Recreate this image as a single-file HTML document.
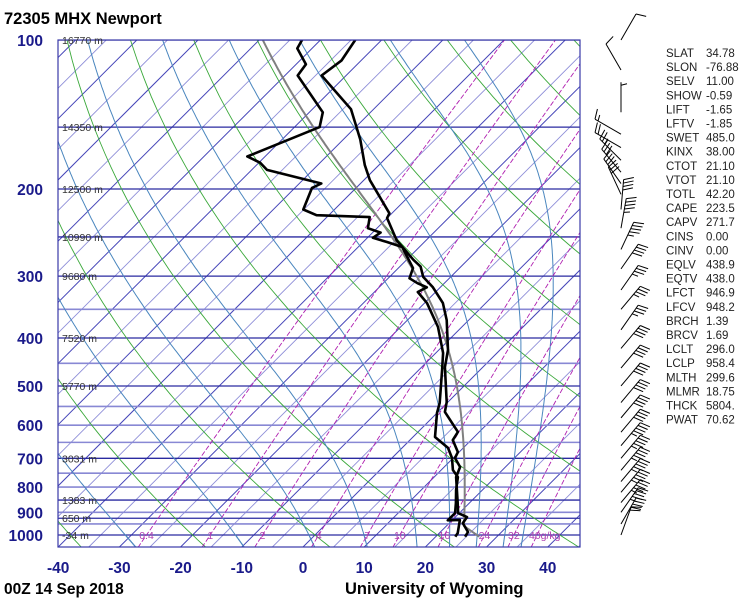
<!DOCTYPE html>
<html><head><meta charset="utf-8">
<style>
html,body{margin:0;padding:0;background:#fff;}
svg{display:block;font-family:"Liberation Sans",Arial,sans-serif;}
</style></head>
<body>
<svg id="chart" width="750" height="600" viewBox="0 0 750 600" xmlns="http://www.w3.org/2000/svg">
<defs><clipPath id="plotclip"><rect x="58" y="40" width="522" height="507"/></clipPath></defs>
<text x="4" y="24" font-size="16.5" font-weight="bold" fill="#000">72305 MHX Newport</text>
<text x="4" y="594" font-size="15.5" font-weight="bold" fill="#000">00Z 14 Sep 2018</text>
<text x="345" y="594" font-size="16.5" font-weight="bold" fill="#000">University of Wyoming</text>
<g id="grid" clip-path="url(#plotclip)"></g>
<g id="series" clip-path="url(#plotclip)"></g>
<rect x="58" y="40" width="522" height="507" fill="none" stroke="#3a3aa8" stroke-width="1.2"/>
<g id="labels"></g>
<g id="winds"></g>
<g id="stats"></g>
</svg>
<script>
const tempP=[100,110,118,138,159,179,192,224,229,254,278,287,301,316,340,368,423,458,539,564,619,643,680,699,729,764,862,903,920,946,986,1008];
const tempT=[-74.3,-73.2,-74.0,-63.7,-57.2,-52.3,-49.0,-40.4,-40.0,-34.8,-28.9,-26.6,-24.5,-21.2,-17.0,-13.6,-8.5,-6.2,-0.2,1.1,6.5,7.0,9.8,10.3,12.6,13.6,18.1,19.8,21.9,22.2,24.5,24.8];
const dewP=[100,104,112,118,140,150,172,177,183,195,199,220,226,228,240,245,251,256,262,289,303,310,316,323,340,380,429,464,541,567,634,667,699,739,764,811,862,903,934,932,991,1008];
const dewT=[-83,-82.4,-78.4,-77.9,-67.8,-65.9,-72.9,-69.8,-67.5,-56.4,-57.2,-55.1,-52.0,-43.0,-41.5,-38.7,-39.1,-36.1,-32.8,-27.6,-26.5,-24.4,-22.2,-22.9,-19.6,-13.9,-8.8,-6.2,-1.2,0.0,3.6,7.5,9.8,11.9,13.9,15.7,17.8,19.3,19.3,21.2,23.0,23.2];
const isobarP=[100,150,200,250,300,350,400,450,500,550,600,650,700,750,800,850,900,925,950,1000];
const isobarDark=[100,150,200,250,300,400,500,700,850,925,1000];
const heightP=[100,150,200,250,300,400,500,700,850,925,1000];
const heightLbl=["16770 m","14350 m","12500 m","10990 m","9680 m","7520 m","5770 m","3031 m","1383 m","650 m","-34 m"];
const pLabels=[100,200,300,400,500,600,700,800,900,1000];
const tTicks=[-40,-30,-20,-10,0,10,20,30,40];
const dryT1000=[-120,-100,-80,-60,-40,-20,0,20,40,60,80,100,120,140,160,180];
const moistT1000=[-31,-13,-1,8,16.5,22,26.5,31,34];
const mixRatios=[0.4,1,2,4,7,10,16,24,32,40];
const mixLabels=["0.4","1","2","4","7","10","16","24","32","40g/kg"];
const windP=[100,115,140,155,165,175,185,195,205,220,240,265,290,320,350,385,420,460,500,540,580,620,660,700,740,780,820,860,900,950,1000];
const windDir=[30,330,0,300,300,315,320,325,335,5,10,25,35,35,40,35,40,40,40,40,40,40,40,40,40,40,40,40,35,30,20];
const windSpd=[10,10,5,15,20,25,30,30,30,40,45,45,40,35,35,35,40,40,40,40,40,40,45,45,45,45,45,45,45,40,20];
const statNames=["SLAT","SLON","SELV","SHOW","LIFT","LFTV","SWET","KINX","CTOT","VTOT","TOTL","CAPE","CAPV","CINS","CINV","EQLV","EQTV","LFCT","LFCV","BRCH","BRCV","LCLT","LCLP","MLTH","MLMR","THCK","PWAT"];
const statValues=["34.78","-76.88","11.00","-0.59","-1.65","-1.85","485.0","38.00","21.10","21.10","42.20","223.5","271.7","0.00","0.00","438.9","438.0","946.9","948.2","1.39","1.69","296.0","958.4","299.6","18.75","5804.","70.62"];
const lclP=958.4, lclT=22.85, sfcP=1008, parcelTheta=299.6;

const NS="http://www.w3.org/2000/svg";
function yP(p){return 535+215*Math.log(p/1000);}
function xT(t,p){return 303+6.12*t+(547-yP(p));}
function mk(tag,attrs,parent){const e=document.createElementNS(NS,tag);for(const k in attrs)e.setAttribute(k,attrs[k]);parent.appendChild(e);return e;}
const grid=document.getElementById('grid'),series=document.getElementById('series'),labels=document.getElementById('labels'),winds=document.getElementById('winds'),stats=document.getElementById('stats');
function es(t){return 6.112*Math.exp(17.67*t/(t+243.5));}
function pathFrom(pts){return pts.map((q,i)=>(i?'L':'M')+q[0].toFixed(1)+' '+q[1].toFixed(1)).join(' ');}

for(let t=-160;t<=45;t+=5){
  const x0=303+6.12*t;
  const el=mk('line',{x1:x0,y1:547,x2:x0+507,y2:40,stroke:(t%10===0)?'#4545b8':'#8e8ed8','stroke-width':(t%10===0)?1:0.9},grid);
  
  
}
isobarP.forEach(p=>{
  const dark=isobarDark.indexOf(p)>=0;
  const el=mk('line',{x1:58,y1:yP(p),x2:580,y2:yP(p),stroke:dark?'#2a2aa0':'#8888d4','stroke-width':dark?1.3:1.6},grid);
  
  
});
dryT1000.forEach(t0=>{
  const th=t0+273.15;const pts=[];
  for(let p=1060;p>=95;p-=10){pts.push([xT(th*Math.pow(p/1000,0.286)-273.15,p),yP(p)]);}
  const el=mk('path',{d:pathFrom(pts),fill:'none',stroke:'#3aa83a','stroke-width':0.9},grid);
  
  
});
function moistPath(t0,p0,pEnd){
  const pts=[];let T=t0+273.15;let lp=Math.log(p0);const lend=Math.log(pEnd);const n=200;const h=(lend-lp)/n;
  for(let i=0;i<=n;i++){const p=Math.exp(lp);pts.push([xT(T-273.15,p),yP(p)]);
    const e=es(T-273.15);const rs=0.622*e/Math.max(p-e,1);
    const dT=(287*T+2.5e6*rs)/(1005+2.5e6*2.5e6*rs*0.622/(287*T*T));
    T+=dT*h;lp+=h;}
  return pts;
}
moistT1000.forEach(t0=>{
  const up=moistPath(t0,1000,100),dn=moistPath(t0,1000,1060).reverse();
  const el=mk('path',{d:pathFrom(dn.concat(up)),fill:'none',stroke:'#4a86be','stroke-width':1},grid);
  
  
});
mixRatios.forEach((w,i)=>{
  const pts=[];
  for(let p=1060;p>=100;p-=10){const e=(w/1000)*p/(0.622+w/1000);const l=Math.log(e/6.112);const td=243.5*l/(17.67-l);pts.push([xT(td,p),yP(p)]);}
  const el=mk('path',{d:pathFrom(pts),fill:'none',stroke:'#b020b0','stroke-width':0.9,'stroke-dasharray':'5,2'},grid);
  
  
  const e=(w/1000)*1000/(0.622+w/1000);const l=Math.log(e/6.112);const td=243.5*l/(17.67-l);
  const tx=mk('text',{x:xT(td,1000)-(i===9?8:0),y:539,'font-size':10.5,fill:'#b040b0','text-anchor':i===9?'start':'middle'},labels);
  tx.textContent=mixLabels[i];
  
  
});
(function(){
  const pts=[];
  for(let p=sfcP;p>=lclP;p-=2){pts.push([xT(parcelTheta*Math.pow(p/1000,0.286)-273.15,p),yP(p)]);}
  const m=moistPath(lclT,lclP,100);
  const el=mk('path',{d:pathFrom(pts.concat(m)),fill:'none',stroke:'#808080','stroke-width':2},series);
  
  
})();
(function(){
  const d=mk('path',{d:pathFrom(dewP.map((p,i)=>[xT(dewT[i],p),yP(p)])),fill:'none',stroke:'#000','stroke-width':2.6,'stroke-linejoin':'round'},series);
  
  
  const t=mk('path',{d:pathFrom(tempP.map((p,i)=>[xT(tempT[i],p),yP(p)])),fill:'none',stroke:'#000','stroke-width':2.6,'stroke-linejoin':'round'},series);
  
  
})();
pLabels.forEach(p=>{
  const el=mk('text',{x:43,y:yP(p)+6,'font-size':15.5,'font-weight':'bold',fill:'#1a1a8a','text-anchor':'end'},labels);
  el.textContent=p;
  
  
});
tTicks.forEach(t=>{
  const el=mk('text',{x:303+6.12*t,y:573,'font-size':15.5,'font-weight':'bold',fill:'#1a1a8a','text-anchor':'middle'},labels);
  el.textContent=t;
  
  
});
heightP.forEach((p,i)=>{
  const el=mk('text',{x:62,y:yP(p)+4,'font-size':10.5,fill:'#333'},labels);
  el.textContent=heightLbl[i];
  
  
});
windP.forEach((p,i)=>{
  const ax=621,ay=yP(p);const a=windDir[i]*Math.PI/180;
  const ux=Math.sin(a),uy=-Math.cos(a);const L=30;
  const tx=ax+ux*L,ty=ay+uy*L;
  const g=mk('g',{},winds);
  
  
  mk('line',{x1:ax,y1:ay,x2:tx,y2:ty,stroke:'#000','stroke-width':1},g);
  const px=-uy,py=ux;let s=windSpd[i];let pos=0;
  while(s>=50){mk('polygon',{points:`${tx-ux*pos},${ty-uy*pos} ${tx-ux*pos+px*10},${ty-uy*pos+py*10} ${tx-ux*(pos+5)},${ty-uy*(pos+5)}`,fill:'none',stroke:'#000','stroke-width':1},g);pos+=6;s-=50;}
  while(s>=10){mk('line',{x1:tx-ux*pos,y1:ty-uy*pos,x2:tx-ux*pos+px*10+ux*3,y2:ty-uy*pos+py*10+uy*3,stroke:'#000','stroke-width':1},g);pos+=3.5;s-=10;}
  if(s>=5){if(pos===0)pos=3;mk('line',{x1:tx-ux*pos,y1:ty-uy*pos,x2:tx-ux*pos+px*6+ux*1.5,y2:ty-uy*pos+py*6+uy*1.5,stroke:'#000','stroke-width':1},g);}
});
statNames.forEach((n,i)=>{
  const y=57+i*14.1;
  const a=mk('text',{x:666,y:y,'font-size':11.5,fill:'#222'},stats);
  a.textContent=n;
  
  
  const b=mk('text',{x:706,y:y,'font-size':11.5,fill:'#222'},stats);
  b.textContent=statValues[i];
  
  
});
</script>
</body></html>
